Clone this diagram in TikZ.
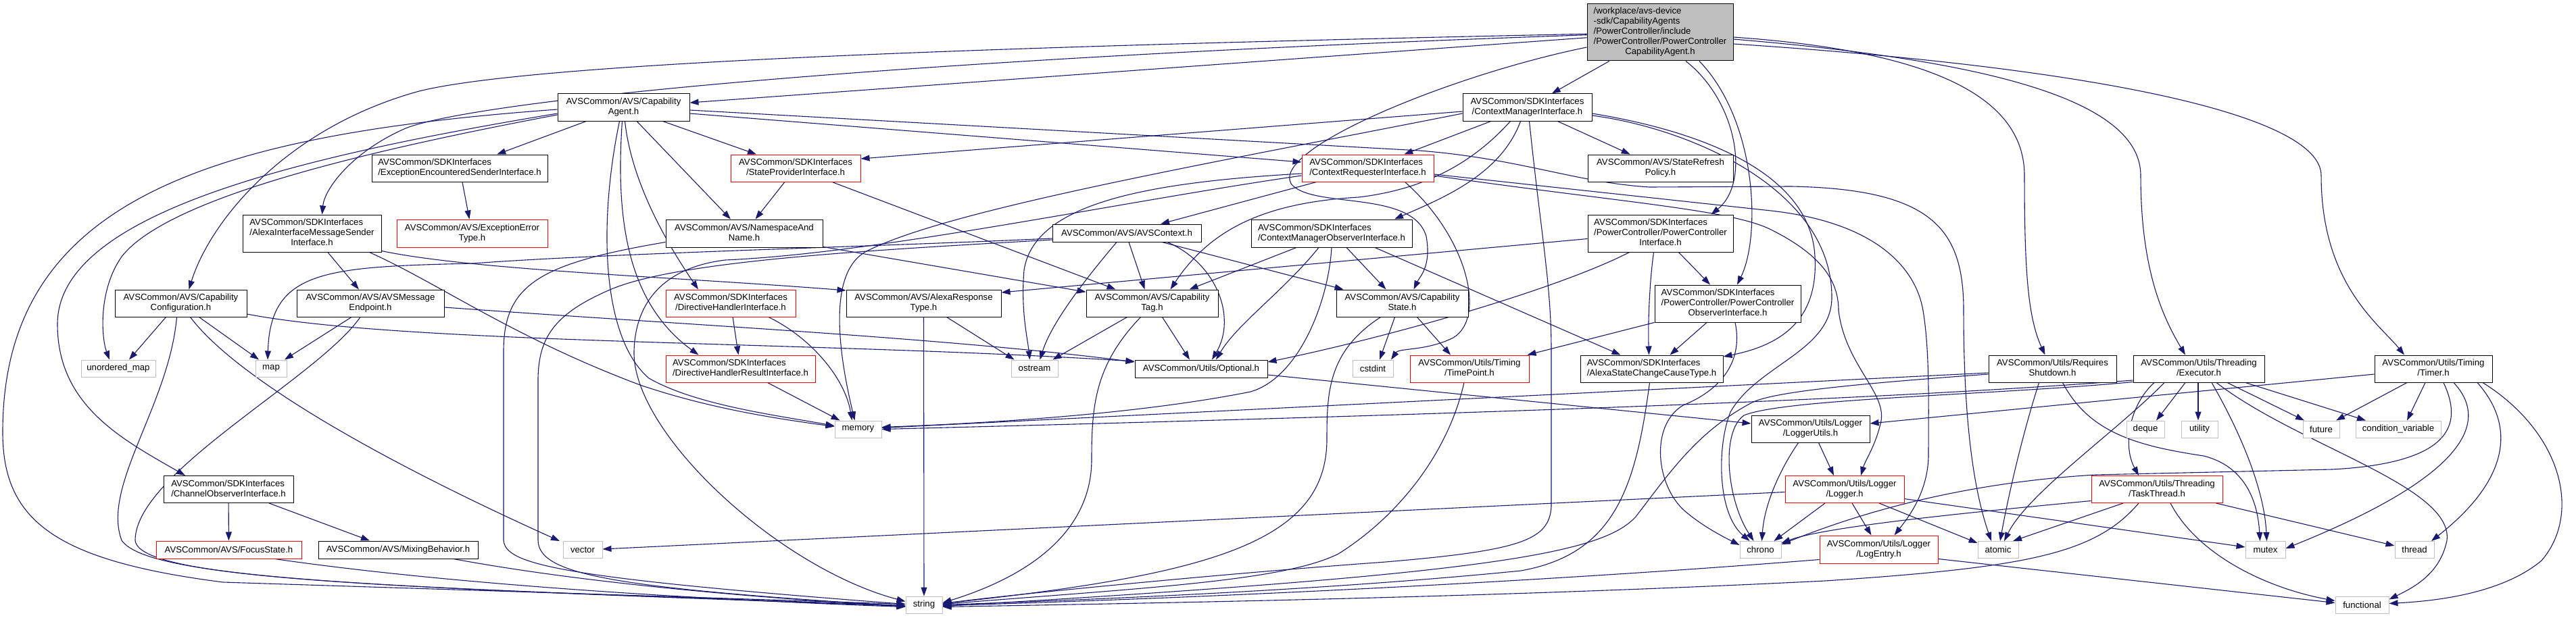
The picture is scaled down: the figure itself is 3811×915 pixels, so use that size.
\documentclass[tikz,border=0pt]{standalone}
\usepackage{fontspec}
\setmainfont{Liberation Sans}
\usetikzlibrary{arrows.meta,calc}
\pgfdeclarelayer{bg}
\pgfsetlayers{bg,main}
\definecolor{edgecol}{HTML}{191970}
\definecolor{leafgray}{HTML}{BFBFBF}
\newcommand\twol[2]{\begin{tabular}{@{}l@{}}#1\\\multicolumn{1}{@{}c@{}}{#2}\end{tabular}}
\begin{document}
\begin{tikzpicture}[x=1pt,y=-1pt,
  font=\fontsize{13.2}{15}\selectfont,
  box/.style={draw=black,fill=white,line width=1pt,inner sep=0pt,align=center},
  redbox/.style={box,draw=red},
  leaf/.style={box,draw=leafgray},
  e/.style={draw=edgecol,line width=1.1pt,-{Triangle[length=13pt,width=9pt]}}]
\useasboundingbox (0,0) rectangle (3811,915);
% ---------- nodes ----------
\node[box,fill=leafgray,minimum width=216pt,minimum height=84pt] (root) at (2456,48) {\begin{tabular}{@{}l@{}}/workplace/avs-device\\-sdk/CapabilityAgents\\/PowerController/include\\/PowerController/PowerController\\\multicolumn{1}{@{}c@{}}{CapabilityAgent.h}\end{tabular}};
\node[box,minimum width=195pt,minimum height=40pt] (ca) at (922.5,159) {\twol{AVSCommon/AVS/Capability}{Agent.h}};
\node[box,minimum width=191pt,minimum height=40pt] (cmi) at (2259.5,159) {\twol{AVSCommon/SDKInterfaces}{/ContextManagerInterface.h}};
\node[box,minimum width=260pt,minimum height=40pt] (eesi) at (680,249) {\twol{AVSCommon/SDKInterfaces}{/ExceptionEncounteredSenderInterface.h}};
\node[redbox,minimum width=192pt,minimum height=40pt] (spi) at (1177,249) {\twol{AVSCommon/SDKInterfaces}{/StateProviderInterface.h}};
\node[redbox,minimum width=195pt,minimum height=40pt] (cri) at (2023.5,249) {\twol{AVSCommon/SDKInterfaces}{/ContextRequesterInterface.h}};
\node[box,minimum width=215pt,minimum height=40pt] (srp) at (2456.5,249) {\twol{AVSCommon/AVS/StateRefresh}{Policy.h}};
\node[box,minimum width=205pt,minimum height=55pt] (aimsi) at (461.5,345.5) {\twol{AVSCommon/SDKInterfaces\\/AlexaInterfaceMessageSender}{Interface.h}};
\node[redbox,minimum width=223pt,minimum height=41pt] (eet) at (698.5,345.5) {\twol{AVSCommon/AVS/ExceptionError}{Type.h}};
\node[box,minimum width=232pt,minimum height=41pt] (nan) at (1101,345.5) {\twol{AVSCommon/AVS/NamespaceAnd}{Name.h}};
\node[box,minimum width=220pt,minimum height=26pt] (avsctx) at (1667,345) {AVSCommon/AVS/AVSContext.h};
\node[box,minimum width=238pt,minimum height=41pt] (cmoi) at (1970,345.5) {\twol{AVSCommon/SDKInterfaces}{/ContextManagerObserverInterface.h}};
\node[box,minimum width=215pt,minimum height=55pt] (pci) at (2456.5,345.5) {\twol{AVSCommon/SDKInterfaces\\/PowerController/PowerController}{Interface.h}};
\node[box,minimum width=195pt,minimum height=40pt] (cc) at (267.5,449) {\twol{AVSCommon/AVS/Capability}{Configuration.h}};
\node[box,minimum width=218pt,minimum height=40pt] (ame) at (548,449) {\twol{AVSCommon/AVS/AVSMessage}{Endpoint.h}};
\node[redbox,minimum width=192pt,minimum height=40pt] (dhi) at (1081,449) {\twol{AVSCommon/SDKInterfaces}{/DirectiveHandlerInterface.h}};
\node[box,minimum width=229pt,minimum height=40pt] (art) at (1366.5,449) {\twol{AVSCommon/AVS/AlexaResponse}{Type.h}};
\node[box,minimum width=195pt,minimum height=40pt] (ctag) at (1704.5,449) {\twol{AVSCommon/AVS/Capability}{Tag.h}};
\node[box,minimum width=195pt,minimum height=40pt] (cstate) at (2074.5,449) {\twol{AVSCommon/AVS/Capability}{State.h}};
\node[box,minimum width=216pt,minimum height=55pt] (pcoi) at (2556,449.5) {\twol{AVSCommon/SDKInterfaces\\/PowerController/PowerController}{ObserverInterface.h}};
\node[leaf,minimum width=110pt,minimum height=25pt] (umap) at (175,545.5) {unordered\_map};
\node[leaf,minimum width=46pt,minimum height=25pt] (map) at (401,545.5) {map};
\node[redbox,minimum width=221pt,minimum height=40pt] (dhri) at (1095.5,546) {\twol{AVSCommon/SDKInterfaces}{/DirectiveHandlerResultInterface.h}};
\node[leaf,minimum width=69pt,minimum height=25pt] (ostream) at (1530.5,545.5) {ostream};
\node[box,minimum width=196pt,minimum height=26pt] (opt) at (1777,546) {AVSCommon/Utils/Optional.h};
\node[leaf,minimum width=60pt,minimum height=25pt] (cstdint) at (2031,545.5) {cstdint};
\node[redbox,minimum width=176pt,minimum height=40pt] (tp) at (2174,546) {\twol{AVSCommon/Utils/Timing}{/TimePoint.h}};
\node[box,minimum width=211pt,minimum height=40pt] (ascct) at (2443.5,546) {\twol{AVSCommon/SDKInterfaces}{/AlexaStateChangeCauseType.h}};
\node[box,minimum width=189pt,minimum height=40pt] (rs) at (3036.5,546) {\twol{AVSCommon/Utils/Requires}{Shutdown.h}};
\node[box,minimum width=194pt,minimum height=40pt] (exec) at (3253,546) {\twol{AVSCommon/Utils/Threading}{/Executor.h}};
\node[box,minimum width=174pt,minimum height=40pt] (timer) at (3600,546) {\twol{AVSCommon/Utils/Timing}{/Timer.h}};
\node[leaf,minimum width=69pt,minimum height=25pt] (memory) at (1269.5,635.5) {memory};
\node[box,minimum width=175pt,minimum height=40pt] (lu) at (2678.5,635) {\twol{AVSCommon/Utils/Logger}{/LoggerUtils.h}};
\node[leaf,minimum width=56pt,minimum height=25pt] (deque) at (3174,635.5) {deque};
\node[leaf,minimum width=54pt,minimum height=25pt] (utility) at (3254,635.5) {utility};
\node[leaf,minimum width=54pt,minimum height=25pt] (future) at (3434,635.5) {future};
\node[leaf,minimum width=126pt,minimum height=25pt] (cv) at (3548,635.5) {condition\_variable};
\node[box,minimum width=192pt,minimum height=40pt] (coi) at (338,724.5) {\twol{AVSCommon/SDKInterfaces}{/ChannelObserverInterface.h}};
\node[redbox,minimum width=176pt,minimum height=40pt] (logger) at (2729,724.5) {\twol{AVSCommon/Utils/Logger}{/Logger.h}};
\node[redbox,minimum width=194pt,minimum height=40pt] (tt) at (3191,724.5) {\twol{AVSCommon/Utils/Threading}{/TaskThread.h}};
\node[redbox,minimum width=215pt,minimum height=26pt] (fs) at (338.5,814) {AVSCommon/AVS/FocusState.h};
\node[box,minimum width=236pt,minimum height=26pt] (mb) at (589,814) {AVSCommon/AVS/MixingBehavior.h};
\node[leaf,minimum width=58pt,minimum height=25pt] (vector) at (862,814) {vector};
\node[leaf,minimum width=61pt,minimum height=25pt] (chrono) at (2604.5,814) {chrono};
\node[redbox,minimum width=175pt,minimum height=41pt] (le) at (2779.5,813.5) {\twol{AVSCommon/Utils/Logger}{/LogEntry.h}};
\node[leaf,minimum width=60pt,minimum height=25pt] (atomic) at (2956,814) {atomic};
\node[leaf,minimum width=59pt,minimum height=25pt] (mutex) at (3351.5,814) {mutex};
\node[leaf,minimum width=58pt,minimum height=25pt] (thread) at (3572,814) {thread};
\node[leaf,minimum width=54pt,minimum height=25pt] (string) at (1367,895.5) {string};
\node[leaf,minimum width=79pt,minimum height=25pt] (functional) at (3494.5,895.5) {functional};
% ---------- edges ----------
\begin{pgfonlayer}{bg}
\fill[white] (0,0) rectangle (3811,915);
% root
\draw[e] (root) -- (ca);
\draw[e] (root) .. controls (1300,88) and (700,150) .. (600,190) .. controls (520,225) and (480,280) .. ($(aimsi.north)+(15,0)$);
\draw[e] (root) .. controls (1400,70) and (780,95) .. (620,135) .. controls (420,190) and (310,330) .. ($(cc.north)+(12,0)$);
\draw[e] (root) -- (cmi);
\draw[e] (root) .. controls (2150,110) and (1880,220) .. (1910,272) .. controls (1940,310) and (2090,280) .. (2110,350) .. controls (2118,395) and (2100,410) .. ($(cstate.north)+(17,0)$);
\draw[e] ($(root.south)+(38,0)$) .. controls (2570,150) and (2590,270) .. ($(pci.north)+(75,0)$);
\draw[e] ($(root.south)+(58,0)$) .. controls (2600,180) and (2605,350) .. ($(pcoi.north)+(14,0)$);
\draw[e] ($(root.east)+(0,7)$) .. controls (2850,75) and (2995,140) .. (2995,260) .. controls (2995,400) and (3000,470) .. ($(rs.north)+(-11,0)$);
\draw[e] ($(root.east)+(0,10)$) .. controls (2950,90) and (3167,150) .. (3167,260) .. controls (3167,400) and (3200,470) .. ($(exec.north)+(-20,0)$);
\draw[e] ($(root.east)+(0,17)$) .. controls (3100,100) and (3434,170) .. (3434,260) .. controls (3434,420) and (3520,480) .. ($(timer.north)+(-43,0)$);
% CapabilityAgent
\draw[e] ($(ca.west)+(0,3)$) .. controls (300,200) and (4,300) .. (4,640) .. controls (4,770) and (80,830) .. (330,862) -- ($(string.west)+(0,-1)$);
\draw[e] ($(ca.west)+(0,9)$) .. controls (420,235) and (85,320) .. (85,480) .. controls (85,600) and (180,650) .. ($(coi.north)+(-64,0)$);
\draw[e] ($(ca.west)+(0,11)$) .. controls (560,220) and (250,290) .. (180,380) .. controls (145,430) and (150,500) .. ($(umap.north)+(-13,0)$);
\draw[e] (ca) -- (eesi);
\draw[e] (ca) -- (spi);
\draw[e] (ca) -- (nan);
\draw[e] ($(ca.south)+(2,0)$) .. controls (935,280) and (1000,380) .. ($(dhi.north)+(-48,0)$);
\draw[e] ($(ca.south)+(-2,0)$) .. controls (910,330) and (930,450) .. ($(dhri.north)+(-62,0)$);
\draw[e] ($(ca.south)+(-6,0)$) .. controls (885,330) and (890,500) .. (960,560) .. controls (1030,600) and (1150,615) .. ($(memory.west)+(0,-5)$);
\draw[e] ($(ca.east)+(0,9)$) -- ($(cri.west)+(0,-9)$);
\draw[e] ($(ca.east)+(0,4)$) -- (2100,223) .. controls (2250,235) and (2330,270) .. (2440,277) -- (2650,276) .. controls (2860,280) and (2905,340) .. (2905,460) .. controls (2905,650) and (2925,740) .. ($(atomic.north)+(-10,0)$);
% ContextManagerInterface
\draw[e] (cmi) -- (cri);
\draw[e] (cmi) -- (srp);
\draw[e] ($(cmi.south)+(-10,0)$) .. controls (2220,260) and (2130,295) .. ($(cmoi.north)+(93,0)$);
\draw[e] ($(cmi.south)+(-25,0)$) .. controls (2180,240) and (2110,280) .. (2010,292) .. controls (1870,300) and (1790,340) .. ($(ctag.north)+(27,0)$);
\draw[e] ($(cmi.west)+(0,6)$) -- ($(spi.east)+(0,-14)$);
\draw[e] ($(cmi.west)+(0,9)$) .. controls (1800,240) and (1400,310) .. (1280,373) .. controls (1225,405) and (1240,520) .. ($(memory.north)+(-5,0)$);
\draw[e] ($(cmi.south)+(3,0)$) .. controls (2280,350) and (2295,420) .. (2295,520) -- (2295,750) .. controls (2292,800) and (2250,815) .. (2050,832) .. controls (1800,850) and (1500,880) .. ($(string.east)+(0,-2)$);
\draw[e] ($(cmi.east)+(0,9)$) .. controls (2550,200) and (2680,270) .. (2685,380) .. controls (2690,470) and (2640,510) .. ($(ascct.east)+(0,-18)$);
\draw[e] ($(cmi.east)+(0,12)$) .. controls (2500,190) and (2710,280) .. (2710,440) .. controls (2710,520) and (2600,540) .. (2560,610) .. controls (2540,660) and (2540,760) .. ($(chrono.north)+(-16,0)$);
% small ones
\draw[e] (eesi) -- (eet);
\draw[e] (spi) -- (nan);
\draw[e] (spi) -- (ctag);
\draw[e] (nan) -- (ctag);
\draw[e] ($(nan.west)+(0,13)$) .. controls (800,390) and (745,420) .. (745,520) -- (745,800) .. controls (748,835) and (820,855) .. ($(string.west)+(0,-1)$);
% ContextRequesterInterface
\draw[e] (cri) -- (avsctx);
\draw[e] ($(cri.west)+(0,8)$) .. controls (1700,270) and (1530,300) .. (1515,400) .. controls (1510,460) and (1520,500) .. ($(ostream.north)+(-7,0)$);
\draw[e] ($(cri.south)+(55,0)$) .. controls (2170,350) and (2200,470) .. (2150,500) .. controls (2110,520) and (2070,515) .. ($(cstdint.north)+(27,0)$);
\draw[e] ($(cri.west)+(0,11)$) .. controls (1650,300) and (1300,375) .. (1073,385) .. controls (990,395) and (940,440) .. (938,520) .. controls (935,640) and (1150,840) .. ($(string.west)+(0,-5)$);
\draw[e] ($(cri.east)+(0,11)$) .. controls (2400,300) and (2560,310) .. (2620,340) .. controls (2700,380) and (2720,420) .. (2720,460) .. controls (2730,540) and (2790,580) .. (2783,623) .. controls (2775,660) and (2760,680) .. ($(logger.north)+(24,0)$);
\draw[e] ($(cri.east)+(0,9)$) -- (2620,312) .. controls (2780,330) and (2835,400) .. (2845,460) .. controls (2855,520) and (2853,600) .. (2853,673) .. controls (2853,730) and (2820,770) .. ($(le.north)+(23,0)$);
% AlexaInterfaceMessageSenderInterface
\draw[e] (aimsi) -- (ame);
\draw[e] ($(aimsi.south)+(85,0)$) .. controls (650,420) and (760,500) .. (947,570) .. controls (1050,605) and (1150,620) .. ($(memory.west)+(0,-4)$);
\draw[e] ($(aimsi.east)+(0,26)$) .. controls (700,400) and (1000,410) .. ($(art.west)+(0,-19)$);
% AVSContext
\draw[e] ($(avsctx.south)+(-15,0)$) .. controls (1600,420) and (1555,480) .. ($(ostream.north)+(8,0)$);
\draw[e] ($(avsctx.south)+(3,0)$) -- ($(ctag.north)+(-11,0)$);
\draw[e] ($(avsctx.south)+(52,0)$) -- ($(cstate.north)+(-87,0)$);
\draw[e] ($(avsctx.south)+(60,0)$) .. controls (1800,390) and (1830,470) .. ($(opt.north)+(16,0)$);
\draw[e] ($(avsctx.west)+(0,8)$) .. controls (1300,365) and (900,375) .. (700,390) .. controls (480,395) and (400,400) .. ($(map.north)+(-5,0)$);
\draw[e] ($(avsctx.west)+(0,10)$) .. controls (1300,370) and (1000,385) .. (900,430) .. controls (820,465) and (797,500) .. (796,560) -- (796,800) .. controls (797,850) and (900,870) .. ($(string.west)+(0,2)$);
% ContextManagerObserverInterface
\draw[e] ($(cmoi.south)+(-52,0)$) -- ($(ctag.north)+(55,0)$);
\draw[e] ($(cmoi.south)+(-19,0)$) .. controls (1900,430) and (1830,480) .. ($(opt.north)+(22,0)$);
\draw[e] (cmoi.south) .. controls (1965,450) and (1920,560) .. (1850,580) .. controls (1700,610) and (1500,625) .. ($(memory.east)+(0,-3)$);
\draw[e] ($(cmoi.south)+(22,0)$) -- ($(cstate.north)+(-24,0)$);
\draw[e] ($(cmoi.south)+(64,0)$) -- ($(ascct.north)+(-46,0)$);
% PowerControllerInterface
\draw[e] ($(pci.west)+(0,8)$) -- ($(art.east)+(0,-16)$);
\draw[e] ($(pci.south)+(-46,0)$) .. controls (2300,430) and (2050,500) .. ($(opt.east)+(0,-10)$);
\draw[e] ($(pci.south)+(-10,0)$) .. controls (2440,420) and (2438,480) .. ($(ascct.north)+(-4,0)$);
\draw[e] ($(pci.south)+(27,0)$) -- ($(pcoi.north)+(-26,0)$);
% CapabilityConfiguration
\draw[e] ($(cc.south)+(-22,0)$) -- ($(umap.north)+(16,0)$);
\draw[e] ($(cc.south)+(27,0)$) -- ($(map.north)+(-18,0)$);
\draw[e] ($(cc.south)+(-6,0)$) .. controls (250,600) and (150,720) .. (180,800) .. controls (220,860) and (600,870) .. ($(string.west)+(0,2)$);
\draw[e] ($(cc.south)+(14,0)$) .. controls (350,560) and (560,680) .. ($(vector.north)+(-34,0)$);
\draw[e] ($(cc.east)+(0,16)$) .. controls (600,510) and (1200,505) .. ($(opt.west)+(0,-11)$);
% AVSMessageEndpoint
\draw[e] ($(ame.south)+(-28,0)$) -- ($(map.north)+(20,0)$);
\draw[e] ($(ame.south)+(-15,0)$) .. controls (470,560) and (200,700) .. (200,800) .. controls (205,860) and (600,870) .. ($(string.west)+(0,1)$);
\draw[e] ($(ame.east)+(0,6)$) .. controls (1000,480) and (1400,500) .. ($(opt.west)+(0,-10)$);
% Directive handler
\draw[e] (dhi) -- (dhri);
\draw[e] ($(dhi.south)+(56,0)$) .. controls (1200,500) and (1250,560) .. ($(memory.north)+(-9,0)$);
\draw[e] ($(dhri.south)+(40,0)$) -- ($(memory.north)+(-27,0)$);
% AlexaResponseType, CapabilityTag, CapabilityState
\draw[e] ($(art.south)+(34,0)$) -- ($(ostream.north)+(-30,0)$);
\draw[e] (art) -- (string);
\draw[e] ($(ctag.south)+(-37,0)$) -- ($(ostream.north)+(27,0)$);
\draw[e] ($(ctag.south)+(15,0)$) -- ($(opt.north)+(-17,0)$);
\draw[e] ($(ctag.south)+(-17,0)$) .. controls (1620,540) and (1615,600) .. (1615,680) .. controls (1615,800) and (1500,860) .. ($(string.east)+(0,-3)$);
\draw[e] ($(cstate.south)+(-11,0)$) -- ($(cstdint.north)+(10,0)$);
\draw[e] ($(cstate.south)+(22,0)$) -- ($(tp.north)+(-28,0)$);
\draw[e] ($(cstate.south)+(-32,0)$) .. controls (1965,520) and (1963,580) .. (1963,650) .. controls (1963,800) and (1800,850) .. ($(string.east)+(0,-2)$);
% PowerControllerObserverInterface
\draw[e] (pcoi.south west) -- ($(tp.north east)+(-3,0)$);
\draw[e] ($(pcoi.south)+(-31,0)$) -- ($(ascct.north)+(27,0)$);
\draw[e] ($(pcoi.south)+(11,0)$) .. controls (2580,540) and (2540,580) .. (2490,600) .. controls (2440,630) and (2450,720) .. (2493,757) .. controls (2520,780) and (2550,795) .. ($(chrono.west)+(0,-7)$);
% Optional, TimePoint, AlexaStateChangeCauseType
\draw[e] ($(opt.east)+(0,9)$) -- ($(lu.west)+(0,-8)$);
\draw[e] ($(tp.south)+(-8,0)$) .. controls (2140,680) and (2060,770) .. (1980,820) .. controls (1900,860) and (1700,870) .. ($(string.east)+(0,-1)$);
\draw[e] ($(ascct.south)+(-3,0)$) .. controls (2420,720) and (2390,820) .. (2250,845) .. controls (2000,870) and (1700,885) .. (string.east);
% RequiresShutdown
\draw[e] ($(rs.west)+(0,6)$) -- ($(memory.east)+(0,-2)$);
\draw[e] ($(rs.west)+(0,8)$) .. controls (2750,568) and (2620,580) .. (2590,597) .. controls (2510,640) and (2470,700) .. (2420,765) .. controls (2370,820) and (2200,850) .. ($(string.east)+(0,2)$);
\draw[e] ($(rs.south)+(-20,0)$) .. controls (2990,650) and (2970,740) .. ($(atomic.north)+(3,0)$);
\draw[e] ($(rs.south)+(15,0)$) .. controls (3090,640) and (3160,660) .. (3260,675) .. controls (3320,690) and (3340,740) .. ($(mutex.north)+(-8,0)$);
% Executor
\draw[e] ($(exec.south)+(-66,0)$) .. controls (3150,600) and (3140,660) .. ($(tt.north)+(-27,0)$);
\draw[e] ($(exec.south)+(-51,0)$) .. controls (3130,640) and (3000,730) .. ($(atomic.north)+(9,0)$);
\draw[e] ($(exec.south)+(-20,0)$) -- ($(deque.north)+(16,0)$);
\draw[e] ($(exec.south)+(-1,0)$) -- ($(utility.north)+(-2,0)$);
\draw[e] ($(exec.south)+(19,0)$) .. controls (3320,650) and (3350,730) .. ($(mutex.north)+(2,0)$);
\draw[e] ($(exec.south)+(26,0)$) .. controls (3400,660) and (3630,720) .. (3620,800) .. controls (3610,850) and (3570,870) .. ($(functional.east)+(0,-8)$);
\draw[e] ($(exec.south)+(42,0)$) -- ($(future.north)+(-25,0)$);
\draw[e] ($(exec.south)+(69,0)$) -- ($(cv.north)+(-48,0)$);
\draw[e] ($(exec.west)+(0,17)$) .. controls (2800,590) and (2300,610) .. (memory.east);
\draw[e] ($(exec.south west)+(0,-1)$) .. controls (2950,585) and (2640,590) .. (2580,615) .. controls (2545,640) and (2555,740) .. ($(chrono.north)+(-10,0)$);
% Timer
\draw[e] ($(timer.west)+(0,8)$) -- ($(lu.east)+(0,-8)$);
\draw[e] ($(timer.south)+(-39,0)$) -- ($(future.north)+(22,0)$);
\draw[e] ($(timer.south)+(-12,0)$) -- ($(cv.north)+(13,0)$);
\draw[e] ($(timer.south)+(15,0)$) .. controls (3640,620) and (3640,685) .. (3450,695) -- (3100,703) .. controls (2900,715) and (2750,760) .. ($(chrono.east)+(0,-8)$);
\draw[e] ($(timer.south)+(30,0)$) .. controls (3680,620) and (3660,700) .. ($(mutex.east)+(0,-2)$);
\draw[e] ($(timer.south)+(65,0)$) .. controls (3730,640) and (3700,720) .. ($(thread.north)+(25,0)$);
\draw[e] ($(timer.south)+(73,0)$) .. controls (3790,640) and (3820,760) .. (3760,830) .. controls (3700,880) and (3600,890) .. ($(functional.east)+(0,-2)$);
% Logger family
\draw[e] ($(lu.south)+(12,0)$) -- ($(logger.north)+(-16,0)$);
\draw[e] ($(lu.south)+(-18,0)$) .. controls (2630,700) and (2610,750) .. ($(chrono.north)+(2,0)$);
\draw[e] ($(logger.west)+(0,4)$) -- ($(vector.east)+(0,-1)$);
\draw[e] ($(logger.south)+(-29,0)$) -- ($(chrono.north)+(20,0)$);
\draw[e] ($(logger.south)+(11,0)$) -- ($(le.north)+(-11,0)$);
\draw[e] ($(logger.south)+(51,0)$) -- ($(atomic.west)+(0,-10)$);
\draw[e] ($(logger.east)+(0,14)$) -- ($(mutex.west)+(0,-4)$);
\draw[e] ($(le.west)+(0,15)$) .. controls (2300,860) and (1800,885) .. ($(string.east)+(0,1)$);
\draw[e] ($(le.east)+(0,14)$) -- ($(functional.west)+(0,-3)$);
% TaskThread
\draw[e] ($(tt.west)+(0,17)$) .. controls (2900,760) and (2700,780) .. ($(chrono.east)+(0,-10)$);
\draw[e] ($(tt.south)+(-50,0)$) -- ($(atomic.north)+(22,0)$);
\draw[e] ($(tt.south)+(20,0)$) .. controls (3250,820) and (3350,870) .. ($(functional.west)+(0,-6)$);
\draw[e] ($(tt.south east)+(-10,0)$) -- ($(thread.west)+(0,-6)$);
\draw[e] ($(tt.south)+(-27,0)$) .. controls (3100,820) and (3000,840) .. (2700,860) .. controls (2200,885) and (1700,893) .. ($(string.east)+(0,3)$);
% ChannelObserver
\draw[e] (coi) -- (fs);
\draw[e] ($(coi.south)+(60,0)$) -- ($(mb.north)+(-42,0)$);
\draw[e] ($(fs.south)+(68,0)$) .. controls (700,870) and (1100,890) .. ($(string.west)+(0,3)$);
\draw[e] ($(mb.south)+(82,0)$) .. controls (900,870) and (1200,890) .. ($(string.west)+(0,2)$);
\end{pgfonlayer}
\end{tikzpicture}
\end{document}
